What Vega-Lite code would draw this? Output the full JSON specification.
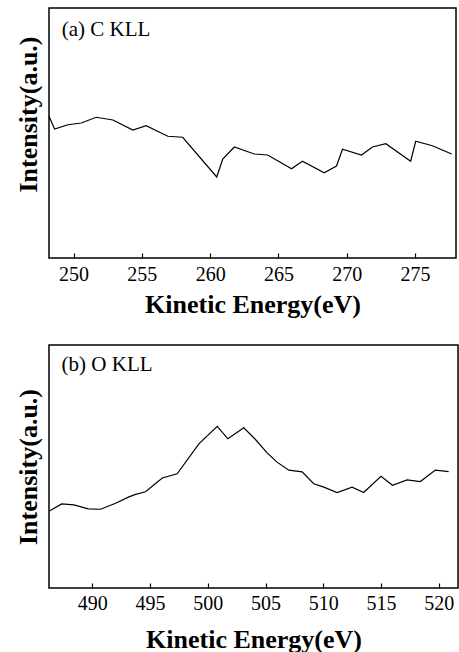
{
  "$schema": "https://vega.github.io/schema/vega-lite/v6.json",
  "padding": {"left": 14, "top": 7, "right": 2, "bottom": 0},
  "background": "white",
  "config": {
    "font": "Liberation Serif",
    "view": {"stroke": "black", "strokeWidth": 1.5},
    "concat": {"spacing": 26},
    "axis": {
      "grid": false,
      "domain": false,
      "labelFont": "Liberation Serif",
      "titleFont": "Liberation Serif",
      "labelColor": "black",
      "titleColor": "black",
      "tickColor": "black",
      "tickWidth": 1.2,
      "labelFontSize": 20,
      "titleFontSize": 26,
      "titleFontWeight": "bold"
    }
  },
  "datasets": {
    "c": [
      {"energy": 248.2, "intensity": 56.7},
      {"energy": 248.61, "intensity": 51.6},
      {"energy": 249.59, "intensity": 53.3},
      {"energy": 250.56, "intensity": 54.0},
      {"energy": 251.66, "intensity": 56.3},
      {"energy": 252.88, "intensity": 55.2},
      {"energy": 254.34, "intensity": 51.2},
      {"energy": 255.31, "intensity": 52.9},
      {"energy": 256.9, "intensity": 48.7},
      {"energy": 257.99, "intensity": 48.3},
      {"energy": 260.48, "intensity": 32.4},
      {"energy": 260.92, "intensity": 39.6},
      {"energy": 261.77, "intensity": 44.4},
      {"energy": 263.23, "intensity": 41.6},
      {"energy": 264.21, "intensity": 41.2},
      {"energy": 265.96, "intensity": 35.7},
      {"energy": 266.76, "intensity": 38.7},
      {"energy": 268.35, "intensity": 34.1},
      {"energy": 269.25, "intensity": 36.8},
      {"energy": 269.69, "intensity": 43.5},
      {"energy": 271.08, "intensity": 41.2},
      {"energy": 271.88, "intensity": 44.4},
      {"energy": 272.86, "intensity": 45.7},
      {"energy": 274.68, "intensity": 38.7},
      {"energy": 275.05, "intensity": 46.7},
      {"energy": 276.27, "intensity": 44.9},
      {"energy": 277.68, "intensity": 41.6}
    ],
    "o": [
      {"energy": 486.25, "intensity": 31.6},
      {"energy": 487.35, "intensity": 34.6},
      {"energy": 488.41, "intensity": 34.2},
      {"energy": 489.65, "intensity": 32.6},
      {"energy": 490.72, "intensity": 32.4},
      {"energy": 492.02, "intensity": 34.9},
      {"energy": 493.17, "intensity": 37.5},
      {"energy": 493.75, "intensity": 38.5},
      {"energy": 494.61, "intensity": 39.6},
      {"energy": 496.06, "intensity": 45.3},
      {"energy": 497.35, "intensity": 47.0},
      {"energy": 499.23, "intensity": 59.3},
      {"energy": 500.82, "intensity": 66.5},
      {"energy": 501.74, "intensity": 61.4},
      {"energy": 503.12, "intensity": 65.9},
      {"energy": 504.13, "intensity": 61.1},
      {"energy": 505.14, "intensity": 55.6},
      {"energy": 506.0, "intensity": 51.8},
      {"energy": 507.02, "intensity": 48.5},
      {"energy": 508.17, "intensity": 47.8},
      {"energy": 509.18, "intensity": 42.9},
      {"energy": 510.05, "intensity": 41.5},
      {"energy": 511.2, "intensity": 39.3},
      {"energy": 512.5, "intensity": 41.5},
      {"energy": 513.5, "intensity": 39.3},
      {"energy": 515.0, "intensity": 46.0},
      {"energy": 516.0, "intensity": 42.3},
      {"energy": 517.26, "intensity": 44.5},
      {"energy": 518.41, "intensity": 43.8},
      {"energy": 519.71, "intensity": 48.5},
      {"energy": 520.86, "intensity": 47.9}
    ]
  },
  "vconcat": [
    {
      "width": 407,
      "height": 250,
      "layer": [
        {
          "data": {"name": "c"},
          "mark": {"type": "line", "color": "black", "strokeWidth": 1.2},
          "encoding": {
            "x": {
              "field": "energy", "type": "quantitative",
              "scale": {"domain": [248.2, 278], "nice": false, "zero": false},
              "axis": {"title": "Kinetic Energy(eV)", "values": [250, 255, 260, 265, 270, 275], "tickSize": -5, "labelPadding": 11, "titlePadding": 7}
            },
            "y": {
              "field": "intensity", "type": "quantitative",
              "scale": {"domain": [0, 100], "nice": false},
              "axis": {"title": "Intensity(a.u.)", "labels": false, "ticks": false, "titlePadding": 8, "titleY": 106}
            }
          }
        },
        {
          "data": {"values": [{"label": "(a) C KLL"}]},
          "mark": {"type": "text", "align": "left", "baseline": "alphabetic", "fontSize": 21, "font": "Liberation Serif", "color": "black"},
          "encoding": {
            "x": {"datum": 249.13, "type": "quantitative"},
            "y": {"datum": 88.8, "type": "quantitative"},
            "text": {"field": "label"}
          }
        }
      ]
    },
    {
      "width": 409,
      "height": 243,
      "layer": [
        {
          "data": {"name": "o"},
          "mark": {"type": "line", "color": "black", "strokeWidth": 1.2},
          "encoding": {
            "x": {
              "field": "energy", "type": "quantitative",
              "scale": {"domain": [486.25, 521.67], "nice": false, "zero": false},
              "axis": {"title": "Kinetic Energy(eV)", "values": [490, 495, 500, 505, 510, 515, 520], "tickSize": -5, "labelPadding": 10, "titlePadding": 13}
            },
            "y": {
              "field": "intensity", "type": "quantitative",
              "scale": {"domain": [0, 100], "nice": false},
              "axis": {"title": "Intensity(a.u.)", "labels": false, "ticks": false, "titlePadding": 8}
            }
          }
        },
        {
          "data": {"values": [{"label": "(b) O KLL"}]},
          "mark": {"type": "text", "align": "left", "baseline": "alphabetic", "fontSize": 21, "font": "Liberation Serif", "color": "black"},
          "encoding": {
            "x": {"datum": 487.34, "type": "quantitative"},
            "y": {"datum": 89.3, "type": "quantitative"},
            "text": {"field": "label"}
          }
        }
      ]
    }
  ]
}
